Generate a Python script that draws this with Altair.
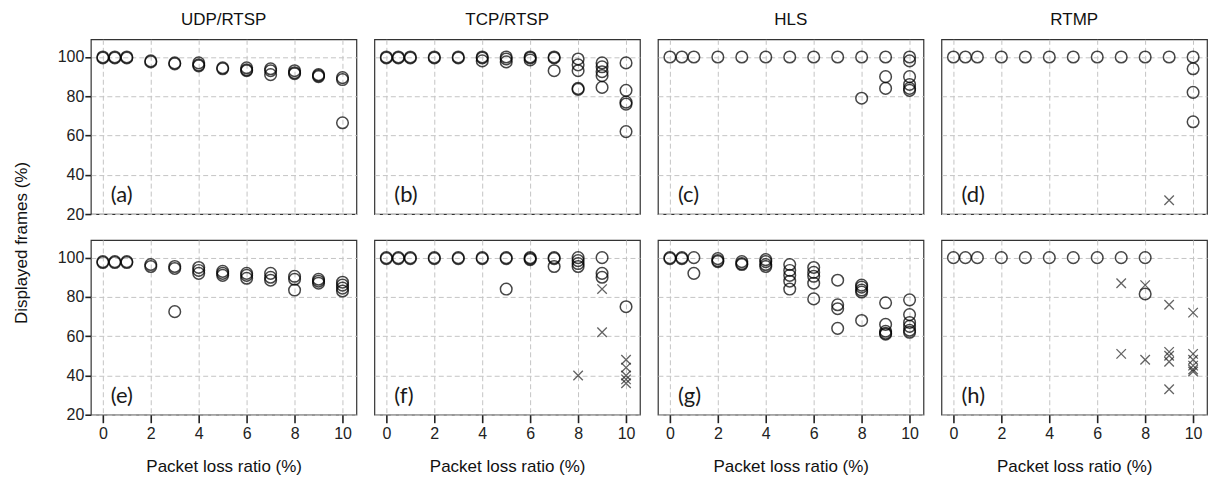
import altair as alt
import pandas as pd

col_titles = ["UDP/RTSP", "TCP/RTSP", "HLS", "RTMP"]
panel_tags = ["(a)", "(b)", "(c)", "(d)", "(e)", "(f)", "(g)", "(h)"]
x_levels = [0, 0.5, 1, 2, 3, 4, 5, 6, 7, 8, 9, 10]
x_ticks = [0, 2, 4, 6, 8, 10]
y_ticks = [20, 40, 60, 80, 100]

# circles: one list of displayed-frame values per x level
a_circles = [[100, 99.5], [100, 99.5], [100, 99.5], [98, 97.5], [97, 96.5], [97, 96, 95.5],
             [94.5, 94], [94.5, 93.5, 93], [94, 93, 91], [93, 92, 91.5], [91, 90.5, 90], [89.5, 88.5, 66.5]]
b_circles = [[100, 99.5], [100, 99.5], [100, 99.5], [100, 99.5], [100, 99.5], [100, 99.5, 98],
             [100, 99, 97.5], [100, 99.5, 98.5], [100, 99.5, 93], [99, 96, 93, 84, 83.5],
             [97, 95, 92.5, 90.5, 84.5], [97, 83, 77, 76, 62]]
c_circles = [[100], [100], [100], [100], [100], [100], [100], [100], [100], [100, 79],
             [100, 90, 84], [100, 98, 90, 86, 84, 83]]
d_circles = [[100], [100], [100], [100], [100], [100], [100], [100], [100], [100], [100],
             [100, 94, 82, 67]]
e_circles = [[98, 97.5], [98, 97.5], [98, 97.5], [96.5, 95.5], [95.5, 94.5, 72.5], [95, 93.5, 92],
             [93, 92, 91], [92, 91, 89.5], [92, 90, 88.5], [90.5, 89, 83.5], [89, 88, 87],
             [87.5, 86, 84.5, 83]]
f_circles = [[100, 99.5], [100, 99.5], [100, 99.5], [100, 99.5], [100, 99.5], [100, 99.5],
             [100, 99.5, 84], [100, 99.5, 99], [100, 99.5, 95.5], [100, 98.5, 97, 95.5],
             [100, 92, 90], [75]]
g_circles = [[100, 99.5], [100, 99.5], [100, 92], [99.5, 98.5, 98], [98, 97, 96.5], [99, 98, 96.5, 95.5],
             [96.5, 93.5, 91, 88, 84], [95, 92.5, 90.5, 87, 79], [88.5, 76, 74, 64],
             [86, 85, 83.5, 82.5, 68], [77, 66, 62.5, 61.5, 61], [78.5, 71, 67, 65, 63, 62]]
h_circles = [[100], [100], [100], [100], [100], [100], [100], [100], [100], [100, 81.5], [], []]

# crosses
d_cross_x = [9]
d_cross_y = [27]
f_cross_x = [8, 9, 9, 10, 10, 10, 10, 10]
f_cross_y = [40, 84, 62, 48, 44, 40, 38, 36]
h_cross_x = [7, 7, 8, 8, 9, 9, 9, 9, 9, 10, 10, 10, 10, 10, 10]
h_cross_y = [87, 51, 86, 48, 76, 52, 50, 47, 33, 72, 51, 48, 45, 43, 42]

circles_all = [a_circles, b_circles, c_circles, d_circles, e_circles, f_circles, g_circles, h_circles]
crosses_all = [([], []), ([], []), ([], []), (d_cross_x, d_cross_y),
               ([], []), (f_cross_x, f_cross_y), ([], []), (h_cross_x, h_cross_y)]

X_DOM = [-0.5, 10.58]
Y_DOM = [20, 109]
FONT = "Liberation Sans"
X_PATH = "M-1,-1L1,1M1,-1L-1,1"


def expand(groups):
    xs, ys = [], []
    for xv, vals in zip(x_levels, groups):
        for v in vals:
            xs.append(xv)
            ys.append(v)
    return pd.DataFrame({"x": xs, "y": ys})


def panel(idx):
    row, col = divmod(idx, 4)
    bottom = row == 1
    first = col == 0
    xaxis = alt.Axis(values=x_ticks, grid=True, labels=bottom, ticks=bottom, domain=False,
                     title="Packet loss ratio (%)" if bottom else None,
                     gridDash=[5, 3], gridColor="#c4c4c4", gridWidth=1,
                     tickSize=8, tickWidth=1.6, tickColor="#222", labelPadding=3,
                     labelFont=FONT, labelFontSize=16, labelColor="#222",
                     titleFont=FONT, titleFontSize=17, titleFontWeight="normal", titleColor="#111",
                     titlePadding=17)
    yaxis = alt.Axis(values=y_ticks, grid=True, labels=first, ticks=first, domain=False,
                     title=None, gridDash=[5, 3], gridColor="#c4c4c4", gridWidth=1,
                     tickSize=6, tickWidth=1.6, tickColor="#222", labelPadding=1,
                     labelFont=FONT, labelFontSize=16, labelColor="#222")
    xenc = alt.X("x:Q", scale=alt.Scale(domain=X_DOM, nice=False, zero=False), axis=xaxis)
    yenc = alt.Y("y:Q", scale=alt.Scale(domain=Y_DOM, nice=False, zero=False), axis=yaxis)

    circ = alt.Chart(expand(circles_all[idx])).mark_point(
        shape="circle", filled=False, size=135, stroke="black", strokeWidth=1.5, opacity=0.72
    ).encode(x=xenc, y=yenc)
    layers = [circ]
    cx, cy = crosses_all[idx]
    if cx:
        cr = alt.Chart(pd.DataFrame({"x": cx, "y": cy})).mark_point(
            shape=X_PATH, filled=False, size=90, stroke="#222", strokeWidth=1.3
        ).encode(x=xenc, y=yenc)
        layers.append(cr)
    tag = alt.Chart(pd.DataFrame({"label": [panel_tags[idx]]})).mark_text(
        align="left", baseline="middle", fontSize=22, font="Lato", color="#1a1a1a"
    ).encode(x=alt.value(20), y=alt.value(156), text="label:N")
    layers.append(tag)
    ch = alt.layer(*layers).properties(width=266, height=175)
    if not bottom:
        ch = ch.properties(title=alt.TitleParams(col_titles[col], fontSize=17, fontWeight="normal",
                                                 font=FONT, color="#111", offset=10))
    return ch


top = alt.hconcat(*[panel(i) for i in range(4)], spacing=16)
bottom = alt.hconcat(*[panel(i) for i in range(4, 8)], spacing=16)

chart = alt.vconcat(top, bottom, spacing=16).properties(
    title=alt.TitleParams("Displayed frames (%)", orient="left", anchor="middle", fontSize=17,
                          fontWeight="normal", font=FONT, color="#111", offset=26),
    padding={"left": 12, "top": 10, "right": 0, "bottom": 2},
    background="white",
).configure_view(
    stroke="#333", strokeWidth=1.2
)

chart.save("out.html", embed_options={"renderer": "svg", "actions": False})
